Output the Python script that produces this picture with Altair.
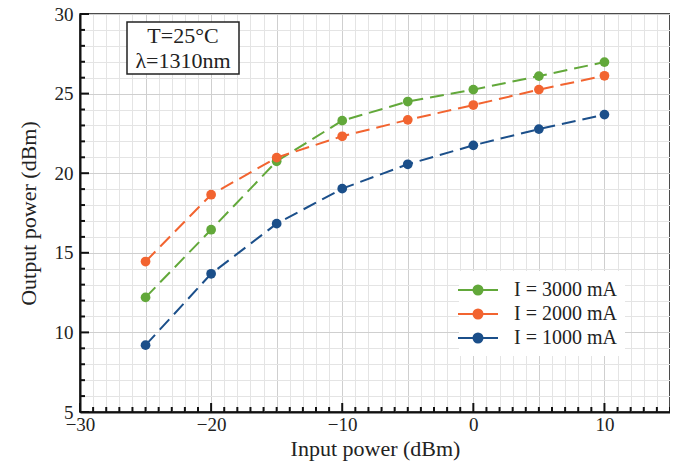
import altair as alt
import pandas as pd

input_power = [-25, -20, -15, -10, -5, 0, 5, 10]
i3000 = [12.2, 16.45, 20.75, 23.3, 24.5, 25.25, 26.1, 26.98]
i2000 = [14.45, 18.65, 20.98, 22.32, 23.35, 24.28, 25.25, 26.12]
i1000 = [9.2, 13.68, 16.83, 19.03, 20.56, 21.75, 22.77, 23.68]
series_names = ["I = 3000 mA", "I = 2000 mA", "I = 1000 mA"]
series_colors = ["#62a83a", "#f26430", "#1b4f8a"]
annotation_lines = ["T=25°C", "λ=1310nm"]

rows = []
for name, vals in zip(series_names, [i3000, i2000, i1000]):
    for x, y in zip(input_power, vals):
        rows.append({"x": x, "y": y, "series": name})
df = pd.DataFrame(rows)

x_ticks = list(range(-30, 16))
y_ticks = list(range(5, 31))
x_major = [-30, -20, -10, 0, 10]
y_major = [5, 10, 15, 20, 25, 30]

W, H = 590, 398
FONT = "Liberation Serif"

xscale = alt.Scale(domain=[-30, 15], nice=False, zero=False)
yscale = alt.Scale(domain=[5, 30], nice=False, zero=False)

grid_color = {"condition": {"test": "datum.value % 5 === 0", "value": "#cfcfcf"}, "value": "#e4e4e4"}

xaxis = alt.Axis(values=x_ticks, grid=True, gridColor=grid_color, gridWidth=1,
                 ticks=False, labelExpr="datum.value % 10 === 0 ? datum.label : ''",
                 labelOverlap=False, labelFlush=False,
                 labelFont=FONT, labelFontSize=19, labelColor="#222", labelPadding=3,
                 title="Input power (dBm)", titleFont=FONT, titleFontSize=22,
                 titleFontWeight="normal", titleColor="#222", titlePadding=4,
                 domainColor="#111", domainWidth=2)
yaxis = alt.Axis(values=y_ticks, grid=True, gridColor=grid_color, gridWidth=1,
                 ticks=False, labelExpr="datum.value % 5 === 0 ? datum.label : ''",
                 labelOverlap=False, labelFlush=False,
                 labelFont=FONT, labelFontSize=19, labelColor="#222", labelPadding=7,
                 title="Output power (dBm)", titleFont=FONT, titleFontSize=22,
                 titleFontWeight="normal", titleColor="#222", titlePadding=14,
                 domainColor="#111", domainWidth=2)

color = alt.Color("series:N", sort=series_names,
                  scale=alt.Scale(domain=series_names, range=series_colors),
                  legend=alt.Legend(title=None, orient="none", legendX=379, legendY=257,
                                    symbolType="M-2,0L2,0M-0.45,0A0.45,0.45 0 1,1 0.45,0A0.45,0.45 0 1,1 -0.45,0Z",
                                    symbolSize=400, symbolStrokeWidth=2,
                                    labelFont=FONT, labelFontSize=20, labelColor="#222",
                                    rowPadding=3, labelOffset=25, fillColor="white",
                                    padding=8))

lines = alt.Chart(df).mark_line(strokeDash=[14, 7], strokeWidth=2).encode(
    x=alt.X("x:Q", scale=xscale, axis=xaxis),
    y=alt.Y("y:Q", scale=yscale, axis=yaxis),
    color=color,
)
points = alt.Chart(df).mark_circle(size=95, opacity=1).encode(
    x=alt.X("x:Q", scale=xscale, axis=xaxis),
    y=alt.Y("y:Q", scale=yscale, axis=yaxis),
    color=color,
)

xt = pd.DataFrame({"v": x_ticks, "major": [v in x_major for v in x_ticks]})
yt = pd.DataFrame({"v": y_ticks, "major": [v in y_major for v in y_ticks]})

xminor = alt.Chart(xt[~xt.major]).mark_rule(color="#111", strokeWidth=2).encode(
    x=alt.X("v:Q", scale=xscale, axis=xaxis), y=alt.value(H), y2=alt.value(H - 5))
xmaj = alt.Chart(xt[xt.major]).mark_rule(color="#111", strokeWidth=2).encode(
    x=alt.X("v:Q", scale=xscale, axis=xaxis), y=alt.value(H), y2=alt.value(H - 9))
yminor = alt.Chart(yt[~yt.major]).mark_rule(color="#111", strokeWidth=2).encode(
    y=alt.Y("v:Q", scale=yscale, axis=yaxis), x=alt.value(0), x2=alt.value(5))
ymaj = alt.Chart(yt[yt.major]).mark_rule(color="#111", strokeWidth=2).encode(
    y=alt.Y("v:Q", scale=yscale, axis=yaxis), x=alt.value(0), x2=alt.value(9))

box = alt.Chart(pd.DataFrame({"a": [0]})).mark_rect(fill="white", stroke="#222", strokeWidth=1.5).encode(
    x=alt.value(47), x2=alt.value(159), y=alt.value(8), y2=alt.value(60))
text1 = alt.Chart(pd.DataFrame({"t": [annotation_lines[0]]})).mark_text(
    font=FONT, fontSize=22, color="#222", baseline="middle").encode(
    text="t:N", x=alt.value(103), y=alt.value(22))
text2 = alt.Chart(pd.DataFrame({"t": [annotation_lines[1]]})).mark_text(
    font=FONT, fontSize=22, color="#222", baseline="middle").encode(
    text="t:N", x=alt.value(103), y=alt.value(47))

chart = alt.layer(lines, points, xminor, xmaj, yminor, ymaj, box, text1, text2).properties(
    width=W, height=H,
    autosize=alt.AutoSizeParams(type="none"),
    padding={"left": 72, "top": 6, "right": 0, "bottom": 50},
).configure_view(stroke="#111", strokeWidth=1.5)

chart.save("out.html", embed_options={"renderer": "svg", "actions": False})
